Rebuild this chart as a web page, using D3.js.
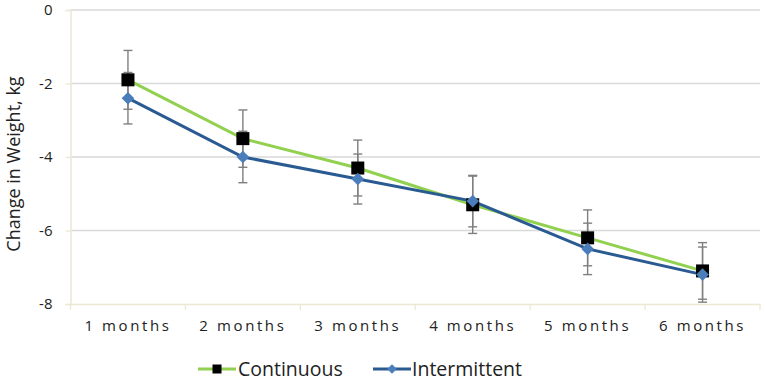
<!DOCTYPE html>
<html><head><meta charset="utf-8">
<script src="https://cdn.jsdelivr.net/npm/d3@7"></script>
<style>body{margin:0;background:#fff;} svg{display:block;font-family:"Open Sans",sans-serif;}</style>
</head><body>
<svg id="c" width="765" height="384"></svg>
<script>
const categories = ["1 months","2 months","3 months","4 months","5 months","6 months"];
const continuous = [-1.9,-3.5,-4.3,-5.3,-6.2,-7.1];
const continuousErr = [0.8,0.78,0.76,0.78,0.76,0.77];
const intermittent = [-2.4,-4.0,-4.6,-5.2,-6.5,-7.2];
const intermittentErr = [0.7,0.7,0.68,0.7,0.7,0.75];
const yTicks = [0,-2,-4,-6,-8];
const seriesNames = ["Continuous","Intermittent"];

const svg = d3.select("#c");
const m = {left:70.5, right:5, top:10, bottom:80};
const W = 765, H = 384;
const x = d3.scaleBand().domain(categories).range([m.left, W-m.right]);
const y = d3.scaleLinear().domain([-8,0]).range([304,10]);

// gridlines
svg.append("g").selectAll("line").data(yTicks.filter(d=>d!==-8)).join("line")
  .attr("x1", m.left).attr("x2", W-m.right)
  .attr("y1", d=>y(d)).attr("y2", d=>y(d))
  .attr("stroke","#d9d9d9").attr("stroke-width",1.3);

// y axis
const yAxis = svg.append("g").attr("transform",`translate(${m.left},0)`)
  .call(d3.axisLeft(y).tickValues(yTicks).tickSize(5).tickPadding(13).tickFormat(d=>String(d)));
yAxis.select(".domain").attr("stroke","#ede8d4").attr("stroke-width",1.5);
yAxis.selectAll(".tick line").attr("stroke","#ede8d4").attr("stroke-width",1.3);
yAxis.selectAll("text").attr("font-size",15).attr("fill","#222").attr("font-family","Open Sans");

// x axis
const xAxis = svg.append("g").attr("transform",`translate(0,${y(-8)})`)
  .call(d3.axisBottom(x).tickSize(0).tickPadding(16));
xAxis.select(".domain").attr("stroke","#ede8d4").attr("stroke-width",1.5);
xAxis.selectAll("text").attr("font-size",15).attr("fill","#222").attr("letter-spacing","2.6px").attr("font-family","Open Sans");
// category boundary ticks
const bounds = categories.map(c=>x(c)).concat([x(categories[categories.length-1])+x.bandwidth()]);
svg.append("g").selectAll("line").data(bounds).join("line")
  .attr("x1",d=>d).attr("x2",d=>d).attr("y1",y(-8)).attr("y2",y(-8)+6)
  .attr("stroke","#ede8d4").attr("stroke-width",1.3);

const cx = c => x(c) + x.bandwidth()/2;

// y title
svg.append("text").attr("transform","translate(20,164) rotate(-90)")
  .attr("text-anchor","middle").attr("font-size",18).attr("fill","#222")
  .text("Change in Weight, kg");

const line = d3.line().x((d,i)=>cx(categories[i])).y(d=>y(d));
const green = "#92d050", navy = "#2a5a92", lblue = "#4a7ebb";

// lines
svg.append("path").datum(continuous).attr("d",line).attr("fill","none").attr("stroke",green).attr("stroke-width",3);
svg.append("path").datum(intermittent).attr("d",line).attr("fill","none").attr("stroke",navy).attr("stroke-width",3);

function errBars(vals, errs){
  const g = svg.append("g").attr("stroke","#7f7f7f").attr("stroke-width",1.4);
  vals.forEach((v,i)=>{
    const px = cx(categories[i]);
    g.append("line").attr("x1",px).attr("x2",px).attr("y1",y(v+errs[i])).attr("y2",y(v-errs[i]));
    [v+errs[i], v-errs[i]].forEach(e=>{
      g.append("line").attr("x1",px-4.5).attr("x2",px+4.5).attr("y1",y(e)).attr("y2",y(e));
    });
  });
}
errBars(continuous, continuousErr);
errBars(intermittent, intermittentErr);

// markers
svg.append("g").selectAll("rect").data(continuous).join("rect")
  .attr("x",(d,i)=>cx(categories[i])-6.5).attr("y",d=>y(d)-6.5)
  .attr("width",13).attr("height",13).attr("fill","#000");
svg.append("g").selectAll("path").data(intermittent).join("path")
  .attr("d", d3.symbol().type(d3.symbolSquare).size(80)())
  .attr("transform",(d,i)=>`translate(${cx(categories[i])},${y(d)}) rotate(45)`)
  .attr("fill",lblue);

// legend
const leg = svg.append("g");
const legItems = [
  {name:seriesNames[0], color:green, x1:198, x2:236, mk:"sq", tx:238},
  {name:seriesNames[1], color:navy, x1:373, x2:411, mk:"di", tx:412}
];
legItems.forEach(it=>{
  leg.append("line").attr("x1",it.x1).attr("x2",it.x2).attr("y1",369).attr("y2",369).attr("stroke",it.color).attr("stroke-width",3);
  const mx=(it.x1+it.x2)/2;
  if(it.mk==="sq") leg.append("rect").attr("x",mx-4.5).attr("y",364.5).attr("width",9).attr("height",9).attr("fill","#000");
  else leg.append("path").attr("d",d3.symbol().type(d3.symbolSquare).size(45)()).attr("transform",`translate(${mx},369) rotate(45)`).attr("fill",lblue);
  leg.append("text").attr("x",it.tx).attr("y",369).attr("dy","0.35em").attr("font-size",19.5).attr("fill","#222").text(it.name);
});
</script>
</body></html>
